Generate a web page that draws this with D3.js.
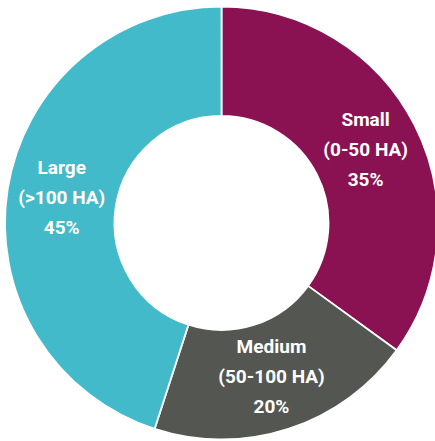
<!DOCTYPE html>
<html>
<head>
<meta charset="utf-8">
<script src="https://cdn.jsdelivr.net/npm/d3@7"></script>
<style>
  html, body { margin: 0; padding: 0; background: #fff; }
  svg { display: block; }
</style>
</head>
<body>
<svg id="chart" width="435" height="441"></svg>
<script>
// Farm size shares
const categories = ["Small", "Medium", "Large"];
const ranges = ["(0-50 HA)", "(50-100 HA)", "(>100 HA)"];
const shares = [35, 20, 45];
const colors = ["#8a1253", "#545751", "#43bac9"];

const svg = d3.select("#chart");
const cx = 221.5, cy = 223;
const outerR = 216.5, innerR = 107;

const data = categories.map((c, i) => ({ name: c, range: ranges[i], value: shares[i], color: colors[i] }));

const pie = d3.pie().sort(null).value(d => d.value);
const arc = d3.arc().innerRadius(innerR).outerRadius(outerR);

const g = svg.append("g").attr("transform", `translate(${cx},${cy})`);
const arcs = pie(data);

g.selectAll("path")
  .data(arcs)
  .join("path")
  .attr("d", arc)
  .attr("fill", d => d.data.color)
  .attr("stroke", "#fff")
  .attr("stroke-width", 1.8);

const labels = g.selectAll("text.label")
  .data(arcs)
  .join("text")
  .attr("class", "label")
  .attr("transform", d => `translate(${arc.centroid(d)})`)
  .attr("text-anchor", "middle")
  .attr("fill", "#fff")
  .style("font-family", "Roboto, 'Noto Sans', sans-serif")
  .style("font-weight", "700")
  .style("font-size", "19px");

labels.each(function(d) {
  const t = d3.select(this);
  const lines = [d.data.name, d.data.range, d.data.value + "%"];
  lines.forEach((s, i) => {
    t.append("tspan")
      .attr("x", 0)
      .attr("y", (i - 1) * 30)
      .attr("dy", "0.35em")
      .text(s);
  });
});
</script>
</body>
</html>
